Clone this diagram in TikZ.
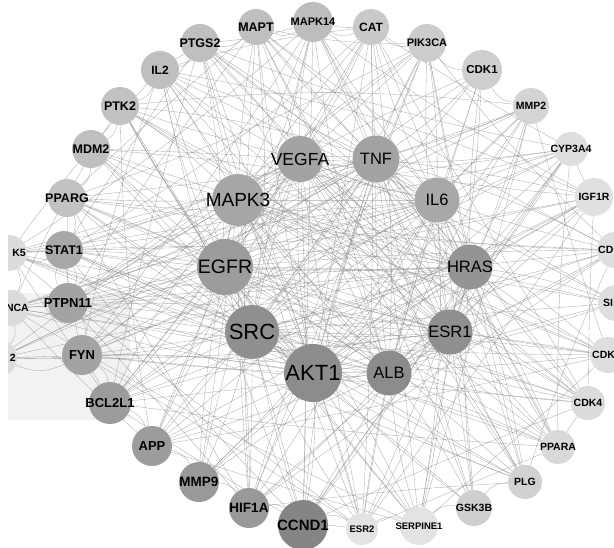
\documentclass[tikz,border=0pt]{standalone}
\usepackage{fontspec}
\setmainfont{Liberation Sans}
\usetikzlibrary{backgrounds}
\newcommand\GNode[7]{\node[gnode,minimum size=#4*2pt,fill=black!#5,label={[font=\fontsize{#6pt}{#6pt}\selectfont,inner sep=0pt]center:#7}] (#1) at (#2,#3) {};}
\newcommand\ONode[7]{\node[gnode,minimum size=#4*2pt,fill=black!#5,label={[font=\bfseries\fontsize{#6pt}{#6pt}\selectfont,inner sep=0pt]center:#7}] (#1) at (#2,#3) {};}
\begin{document}
\begin{tikzpicture}[x=1pt,y=-1pt,
  gnode/.style={circle,inner sep=0pt,draw=none,text=black},
  edge/.style={draw=black!45,line width=0.35pt,opacity=0.7},
  lab/.style={inner sep=0pt,text=black,font=\bfseries\fontsize{10.5pt}{10.5pt}\selectfont}]
\useasboundingbox (0,0) rectangle (614,547);
% inner nodes
\GNode{n1}{300}{159}{23}{36}{17.5}{VEGFA}
\GNode{n2}{376}{159}{23.5}{36}{16.5}{TNF}
\GNode{n3}{437}{200}{22.5}{34}{16.5}{IL6}
\GNode{n4}{470}{267}{22.5}{42}{16.5}{HRAS}
\GNode{n5}{450}{332}{22.5}{44}{16.5}{ESR1}
\GNode{n6}{389}{373}{22.5}{45}{16.5}{ALB}
\GNode{n7}{313}{373}{29}{45}{22}{AKT1}
\GNode{n8}{252}{332}{27}{44}{22}{SRC}
\GNode{n9}{225}{267}{28}{39}{19.5}{EGFR}
\GNode{n10}{238}{200}{26}{35}{19}{MAPK3}
% outer ring
\ONode{n11}{313}{22}{20}{26}{11}{MAPK14}
\ONode{n12}{371}{27}{18}{21}{12}{CAT}
\ONode{n13}{427}{43}{19}{20}{11}{PIK3CA}
\ONode{n14}{482}{70}{20}{19}{11.5}{CDK1}
\ONode{n15}{531}{106}{18}{17}{10.5}{MMP2}
\ONode{n16}{571}{149}{17}{13}{10.5}{CYP3A4}
\ONode{n17}{594}{197}{19}{12}{10.5}{IGF1R}
\ONode{n18}{615}{250}{18}{13}{10.5}{}
\ONode{n19}{616}{303}{18}{13}{10.5}{}
\ONode{n20}{608}{355}{18}{13}{10.5}{}
\ONode{n21}{588}{403}{17}{14}{10.5}{CDK4}
\ONode{n22}{558}{447}{17}{15}{10.5}{PPARA}
\ONode{n23}{525}{482}{17}{18}{10.5}{PLG}
\ONode{n24}{474}{508}{18}{19}{10.5}{GSK3B}
\ONode{n25}{419}{526}{19}{11}{9.5}{SERPINE1}
\ONode{n26}{362}{529}{16}{11}{9.5}{ESR2}
\ONode{n27}{303}{525}{25}{48}{15}{CCND1}
\ONode{n28}{249}{508}{20}{40}{13.5}{HIF1A}
\ONode{n29}{199}{482}{20}{40}{13.5}{MMP9}
\ONode{n30}{152}{446}{20}{39}{13}{APP}
\ONode{n31}{110}{403}{21}{39}{13}{BCL2L1}
\ONode{n32}{82}{355}{20}{36}{13}{FYN}
\ONode{n33}{68}{303}{20}{36}{13}{PTPN11}
\ONode{n34}{-1}{358}{18}{14}{10.5}{}
\ONode{n35}{11}{308}{18}{14}{10.5}{}
\ONode{n36}{64}{250}{19}{34}{12.5}{STAT1}
\ONode{n37}{9}{253}{18}{14}{10.5}{}
\ONode{n38}{67}{198}{19}{24}{12.5}{PPARG}
\ONode{n39}{91}{149}{19}{25}{12.5}{MDM2}
\ONode{n40}{120}{106}{19}{24}{12.5}{PTK2}
\ONode{n41}{160}{70}{19}{25}{12}{IL2}
\ONode{n42}{200}{43}{19}{25}{12.5}{PTGS2}
\ONode{n43}{256}{27}{18}{25}{12.5}{MAPT}
% labels of clipped nodes
\node[lab,anchor=west] (l18) at (598,250) {CD};
\node[lab,anchor=west] (l19) at (603,303) {SI};
\node[lab,anchor=west] (l20) at (592,355) {CDK};
\node[lab,anchor=east] (l37) at (26,253) {K5};
\node[lab,anchor=east] (l35) at (29,308) {NCA};
\node[lab,anchor=east] (l34) at (16,358) {2};
% background and edges
\begin{scope}[on background layer]
\fill[white] (0,0) rectangle (614,547);
\fill[black!5] (8,293) rectangle (130,420);
\foreach \i in {1,...,42}{
  \pgfmathtruncatemacro\js{\i+1}
  \foreach \j in {\js,...,43}{
    \pgfmathtruncatemacro\f{ifthenelse(\i<11,ifthenelse(\j<11,1,mod(3*\i+7*\j,10)<8),mod(\i*\j+\i+\j,5)==0)}
    \pgfmathtruncatemacro\bd{mod(\i*5+\j*3,13)-6}
    \ifnum\f=1
      \draw[edge] (n\i) to[bend left=\bd] (n\j);
    \fi
  }
}
\foreach \a/\b in {n33/n36,n32/n33,n31/n32,n30/n31,n29/n30,n28/n29,n27/n28,n36/n38,n35/n37,n34/n35,n38/n39,n39/n40,n40/n41,n41/n42,n42/n43,n43/n11,n11/n12,n12/n13,n13/n14,n14/n15,n26/n27,n25/n26,n24/n25,n23/n24,n36/n33,n37/n36,n35/n33,n34/n32}{
  \draw[edge] (\a) to[bend right=25] (\b);
}
\end{scope}
\fill[white] (0,0) rectangle (8,547);
\end{tikzpicture}
\end{document}
